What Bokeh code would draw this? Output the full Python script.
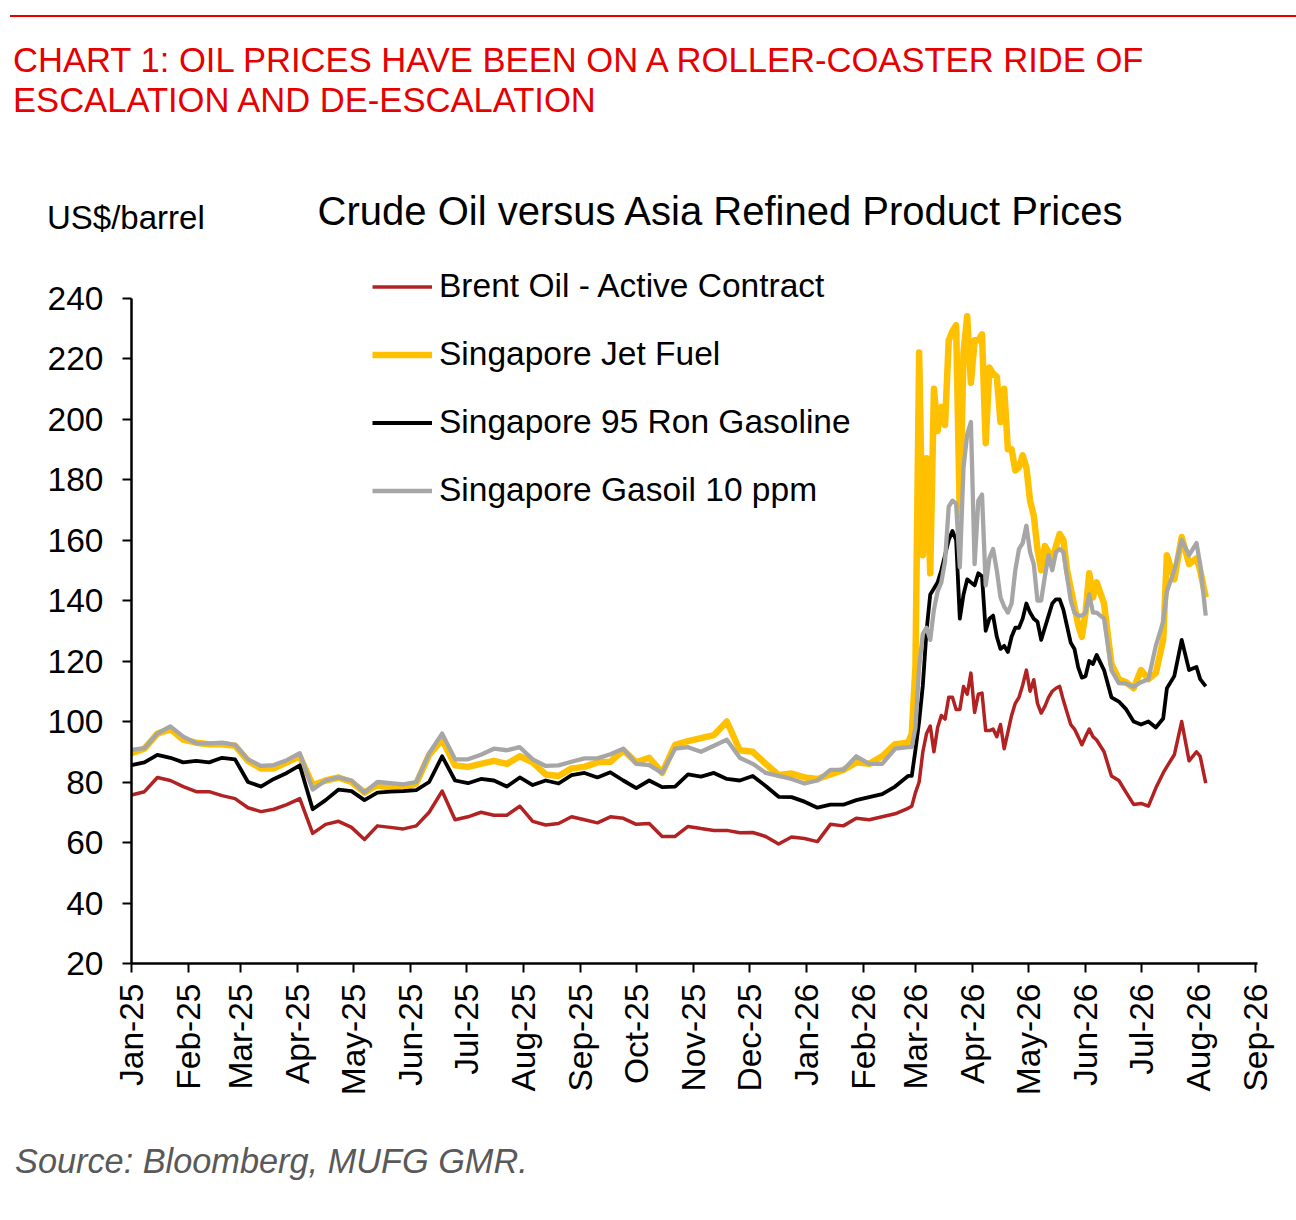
import pandas as pd
import numpy as np
from bokeh.plotting import figure
from bokeh.layouts import column
from bokeh.models import (Range1d, DatetimeTickFormatter, MonthsTicker, FixedTicker,
                          Legend, LegendItem, ColumnDataSource, Div)
from bokeh.embed import file_html
from bokeh.resources import INLINE

# ---------------- data ----------------
# observation day offsets from 2025-01-01
obs_day = [0, 7, 14, 21, 28, 35, 42, 49, 56, 63, 70, 77, 84, 91, 98, 105, 112, 119, 126, 133,
           140, 147, 154, 161, 168, 175, 182, 189, 196, 203, 210, 217, 224, 231, 238, 245, 252,
           259, 266, 273, 280, 287, 294, 301, 308, 315, 322, 329, 336, 343, 350, 357, 364, 371,
           378, 385, 392, 399, 406, 413, 420,
           422, 424, 426, 428, 430, 432, 434, 436, 438, 440, 442, 444, 446, 448, 450, 452, 454,
           456, 458, 460, 462, 464, 466, 468, 470, 472, 474, 476, 478, 480, 482, 484, 486, 488,
           490, 492, 494, 496, 498, 500, 502, 504, 506, 508, 510, 512, 514, 516, 518, 520,
           522, 526, 530, 534, 538, 542, 546, 550, 554, 558, 560, 564, 568, 572, 576, 578, 581]

brent = [75.7, 76.8, 81.5, 80.5, 78.5, 76.8, 76.8, 75.5, 74.5, 71.5, 70.2, 71.0, 72.5, 74.5, 63.0,
         66.0, 67.0, 65.0, 61.0, 65.5, 65.0, 64.5, 65.5, 70.0, 77.0, 67.5, 68.5, 70.0, 69.0, 69.0,
         72.0, 67.0, 65.8, 66.3, 68.5, 67.5, 66.5, 68.5, 68.0, 66.0, 66.3, 62.0, 62.0, 65.3, 64.6,
         64.0, 64.0, 63.2, 63.3, 62.0, 59.5, 61.8, 61.3, 60.3, 66.0, 65.5, 68.0, 67.5, 68.5, 69.5,
         71.3,
         72.0, 76.5, 80.0, 90.0, 96.0, 98.5, 90.0, 98.0, 102.0, 100.8, 108.0, 108.0, 104.0, 104.0,
         111.6, 109.0, 116.0, 103.0, 109.0, 109.4, 97.0, 97.0, 97.5, 95.0, 99.0, 91.0, 96.5, 102.0,
         106.0, 108.0, 112.0, 117.0, 110.0, 113.8, 106.0, 102.8, 105.0, 108.0, 110.0, 111.0, 111.6,
         107.0, 103.0, 99.0, 97.5, 95.0, 92.3, 95.0, 97.5, 95.0,
         93.9, 90.0, 82.0, 80.5, 76.5, 72.6, 72.9, 72.0, 78.0, 83.0, 85.1, 89.0, 100.0, 87.0, 90.0,
         88.5, 79.6]

jet_fuel = [89.5, 91.0, 96.0, 97.5, 94.0, 93.0, 92.5, 92.5, 92.0, 87.0, 84.5, 84.5, 86.5, 88.5, 79.0,
            80.5, 81.5, 80.0, 76.5, 79.0, 78.0, 78.0, 79.5, 89.0, 94.0, 85.5, 85.0, 86.0, 87.0, 86.0,
            88.5, 86.5, 82.5, 82.0, 84.5, 85.0, 86.5, 86.7, 90.5, 86.5, 88.0, 83.0, 92.3, 93.5, 94.5,
            95.5, 100.0, 90.5, 90.0, 86.0, 82.3, 82.8, 81.5, 81.0, 82.5, 84.0, 86.5, 86.0, 88.5, 92.5,
            93.0,
            96.0, 118.0, 222.0, 155.0, 187.0, 149.0, 210.0, 196.0, 204.0, 198.0, 226.0, 229.0, 231.0,
            168.0, 222.0, 234.0, 212.0, 226.0, 226.0, 228.0, 192.0, 217.0, 215.0, 214.0, 199.0, 210.0,
            190.0, 190.0, 183.0, 184.0, 188.0, 184.0, 173.0, 168.0, 157.0, 150.0, 158.0, 156.0, 153.0,
            158.0, 162.0, 160.0, 150.0, 144.0, 138.0, 132.0, 128.0, 136.0, 149.0, 141.0,
            146.0, 139.0, 119.0, 114.0, 113.0, 111.0, 117.0, 114.0, 116.0, 127.0, 155.0, 147.0, 161.0,
            152.0, 154.0, 150.0, 141.0]

gasoline = [85.6, 86.5, 89.0, 88.0, 86.5, 87.0, 86.5, 88.0, 87.5, 80.0, 78.5, 81.0, 83.0, 85.5, 71.0,
            74.0, 77.5, 77.0, 74.0, 76.5, 76.8, 77.0, 77.3, 80.0, 88.5, 80.5, 79.6, 81.0, 80.5, 78.5,
            81.5, 79.0, 80.5, 79.5, 82.3, 83.0, 81.5, 83.2, 80.5, 78.0, 80.5, 78.3, 78.5, 82.5, 81.8,
            83.0, 81.0, 80.5, 82.0, 78.7, 75.1, 75.0, 73.5, 71.5, 72.5, 72.5, 74.0, 75.0, 76.0, 78.5,
            82.0,
            82.0, 90.6, 100.0, 112.0, 130.0, 142.0, 144.0, 146.0, 150.0, 155.0, 160.0, 163.0, 160.0,
            134.0, 142.0, 147.0, 146.0, 145.0, 149.0, 148.0, 130.0, 134.0, 135.0, 128.0, 124.0, 125.0,
            123.0, 128.0, 131.0, 131.0, 134.0, 139.0, 136.0, 134.0, 133.0, 127.0, 131.0, 135.0, 139.0,
            140.4, 140.4, 137.0, 131.5, 126.0, 124.0, 118.0, 114.5, 115.0, 120.0, 119.0,
            122.0, 117.0, 108.0, 106.6, 104.0, 100.0, 99.0, 100.0, 98.0, 101.0, 111.0, 115.0, 127.0,
            117.0, 118.0, 114.0, 111.6]

gasoil = [90.6, 91.2, 96.0, 98.4, 95.0, 92.8, 92.8, 93.0, 92.3, 87.5, 85.3, 85.6, 87.2, 89.5, 77.5,
          80.5, 81.5, 80.5, 76.5, 80.0, 79.6, 79.2, 80.0, 89.5, 96.0, 87.5, 87.5, 89.0, 91.0, 90.5,
          91.5, 87.5, 85.3, 85.5, 86.7, 87.8, 87.8, 89.2, 91.0, 86.0, 85.6, 83.0, 91.0, 91.5, 90.0,
          92.0, 94.0, 88.0, 86.0, 83.0, 82.0, 81.0, 79.5, 80.5, 84.0, 84.0, 88.5, 86.0, 86.0, 91.0,
          91.5,
          91.5, 98.0, 118.0, 129.0, 131.0, 127.0, 137.0, 143.0, 146.0, 153.0, 171.0, 173.0, 172.0,
          151.0, 184.0, 195.0, 199.0, 152.0, 173.0, 175.0, 145.0, 154.0, 157.0, 150.0, 141.0, 138.0,
          136.0, 139.0, 150.0, 157.0, 159.0, 164.7, 156.0, 152.0, 140.0, 140.0, 148.0, 155.0, 150.0,
          156.0, 157.0, 156.0, 148.0, 140.0, 136.0, 135.0, 135.0, 136.0, 142.0, 136.0,
          136.0, 134.0, 117.0, 112.7, 112.5, 111.5, 113.0, 114.0, 125.0, 133.0, 143.0, 150.0, 160.0,
          155.0, 159.0, 152.0, 135.0]

series_names = ["Brent Oil - Active Contract", "Singapore Jet Fuel",
                "Singapore 95 Ron Gasoline", "Singapore Gasoil 10 ppm"]
y_ticks = [20, 40, 60, 80, 100, 120, 140, 160, 180, 200, 220, 240]

header_lines = ["CHART 1: OIL PRICES HAVE BEEN ON A ROLLER-COASTER RIDE OF",
                "ESCALATION AND DE-ESCALATION"]
chart_title = "Crude Oil versus Asia Refined Product Prices"
unit_label = "US$/barrel"
source_note = "Source: Bloomberg, MUFG GMR."

# ---------------- layout ----------------
FONT = "Liberation Sans"
CSS_FONT = "'Liberation Sans', Arial, sans-serif"
W = 1280
HEAD_H = 245
FIG_H = 885
SRC_H = 74

head_html = (
    f'<div style="position:relative;width:{W}px;height:{HEAD_H}px;overflow:visible;'
    f'font-family:{CSS_FONT};line-height:1;">'
    '<div style="position:absolute;left:10px;top:14.5px;width:1290px;height:2px;'
    'background:#E60000;"></div>'
    f'<div style="position:absolute;left:13px;top:42.8px;white-space:nowrap;font-size:34.6px;'
    f'color:#E60000;">{header_lines[0]}</div>'
    f'<div style="position:absolute;left:13px;top:82.8px;white-space:nowrap;font-size:34.6px;'
    f'color:#E60000;">{header_lines[1]}</div>'
    f'<div style="position:absolute;left:47px;top:201px;white-space:nowrap;font-size:33px;'
    f'color:#000000;">{unit_label}</div>'
    f'<div style="position:absolute;left:220px;top:191px;width:1000px;text-align:center;'
    f'white-space:nowrap;font-size:40px;color:#000000;">{chart_title}</div>'
    '</div>'
)
head = Div(text=head_html, width=W, height=HEAD_H, margin=0)

src_html = (
    f'<div style="position:relative;width:{W}px;height:{SRC_H}px;font-family:{CSS_FONT};'
    'line-height:1;">'
    f'<div style="position:absolute;left:15px;top:14px;white-space:nowrap;font-size:34.3px;'
    f'font-style:italic;color:#595959;">{source_note}</div>'
    '</div>'
)
foot = Div(text=src_html, width=W, height=SRC_H, margin=0)

# ---------------- figure ----------------
start = pd.Timestamp("2025-01-01")
dates = (start + pd.to_timedelta(obs_day, unit="D")).to_pydatetime()
src = ColumnDataSource(dict(date=dates, brent=brent, jet=jet_fuel, gasoline=gasoline, gasoil=gasoil))

# frame: left 131, right 1257, top at figure top (page 245), bottom at page 963
p = figure(width=W, height=FIG_H, x_axis_type="datetime", output_backend="svg",
           toolbar_location=None,
           x_range=Range1d(pd.Timestamp("2025-01-01").to_pydatetime(),
                           pd.Timestamp("2026-09-02").to_pydatetime()),
           y_range=Range1d(20, 257.36),
           min_border_left=131, min_border_right=23, min_border_top=0, min_border_bottom=167,
           margin=0)
p.outline_line_color = None
p.xgrid.visible = False
p.ygrid.visible = False
p.background_fill_color = "white"
p.border_fill_color = "white"

p.xaxis.ticker = MonthsTicker(months=list(range(12)))
p.xaxis.formatter = DatetimeTickFormatter(days="%b-%y", months="%b-%y", years="%b-%y")
p.xaxis.major_label_orientation = np.pi / 2
p.yaxis.ticker = FixedTicker(ticks=y_ticks)
p.yaxis.bounds = (20, 240)

for ax in (p.xaxis[0], p.yaxis[0]):
    ax.axis_line_width = 2.5
    ax.axis_line_color = "black"
    ax.major_tick_line_width = 2
    ax.major_tick_line_color = "black"
    ax.major_tick_out = 9
    ax.major_tick_in = 0
    ax.minor_tick_out = 0
    ax.minor_tick_in = 0
    ax.major_label_text_font = FONT
    ax.major_label_text_font_size = "33.5px"
    ax.major_label_text_color = "black"
p.yaxis.major_label_standoff = 19
p.xaxis.major_label_standoff = 11

r_brent = p.line("date", "brent", source=src, line_color="#B22222", line_width=3.5, line_join="round")
r_jet = p.line("date", "jet", source=src, line_color="#FFC000", line_width=6.5, line_join="round")
r_gas = p.line("date", "gasoline", source=src, line_color="#000000", line_width=3.8, line_join="round")
r_oil = p.line("date", "gasoil", source=src, line_color="#A6A6A6", line_width=4.3, line_join="round")

legend = Legend(items=[LegendItem(label=series_names[0], renderers=[r_brent]),
                       LegendItem(label=series_names[1], renderers=[r_jet]),
                       LegendItem(label=series_names[2], renderers=[r_gas]),
                       LegendItem(label=series_names[3], renderers=[r_oil])],
                location=(241, 454), orientation="vertical", padding=0, margin=0,
                spacing=30, glyph_width=60, glyph_height=37, label_height=37,
                label_standoff=7, label_text_font=FONT, label_text_font_size="33.5px",
                label_text_color="black", border_line_color=None, background_fill_alpha=0)
p.add_layout(legend)

layout = column(head, p, foot, spacing=0, margin=0)
open("out.html", "w").write(file_html(layout, INLINE))
